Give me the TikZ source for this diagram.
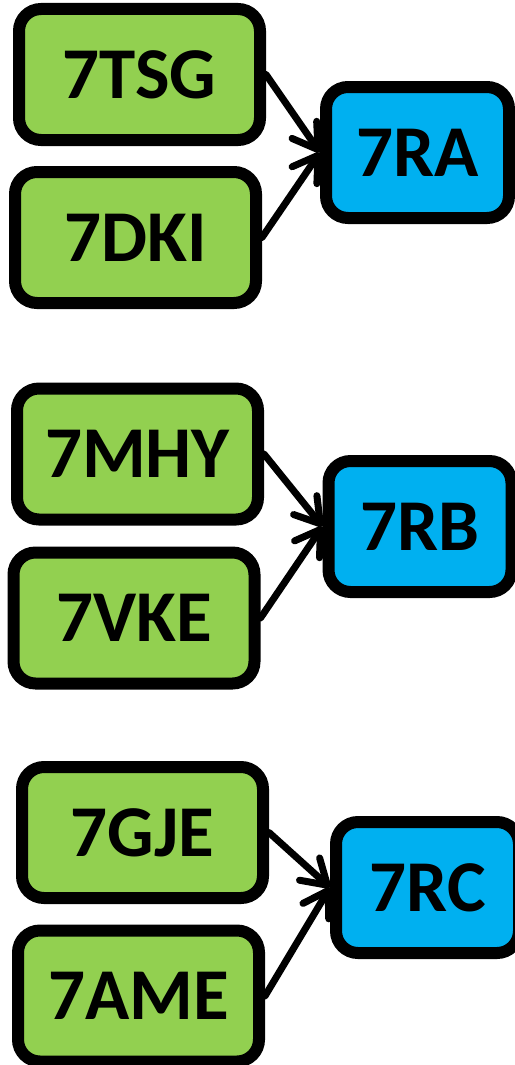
\documentclass[tikz,border=0pt]{standalone}
\usepackage{fontspec}
\setmainfont{Carlito}
\usetikzlibrary{arrows.meta}
\definecolor{boxgreen}{HTML}{92D050}
\definecolor{boxblue}{HTML}{00B0F0}
\tikzset{
  box/.style={draw=black, line width=12pt, rounded corners=22pt, inner sep=0pt,
    minimum height=131pt, font=\fontsize{73}{80}\selectfont\bfseries,
    text height=47pt, text depth=0pt},
  src/.style={box, fill=boxgreen, minimum width=241pt},
  dst/.style={box, fill=boxblue, minimum width=183pt},
  link/.style={draw=black, line width=7pt, line cap=round,
    -{Straight Barb[length=24pt,width=30pt,round]}}
}
\begin{document}
\begin{tikzpicture}[x=1pt,y=-1pt]
\useasboundingbox (0,0) rectangle (514,1065);
\node[src] (tsg) at (139.5,74.5) {7TSG};
\node[src] (dki) at (135.5,237.5) {7DKI};
\node[dst] (ra)  at (417.5,152.5) {7RA};
\node[src] (mhy) at (137.5,454) {7MHY};
\node[src] (vke) at (134,618) {7VKE};
\node[dst] (rb)  at (420,526.5) {7RB};
\node[src] (gje) at (142.5,832.5) {7GJE};
\node[src] (ame) at (138.5,996) {7AME};
\node[dst] (rc)  at (427.5,887.5) {7RC};
\draw[link] (tsg.east) -- (ra.west);
\draw[link] (dki.east) -- (ra.west);
\draw[link] (mhy.east) -- (rb.west);
\draw[link] (vke.east) -- (rb.west);
\draw[link] (gje.east) -- (rc.west);
\draw[link] (ame.east) -- (rc.west);
\end{tikzpicture}
\end{document}
